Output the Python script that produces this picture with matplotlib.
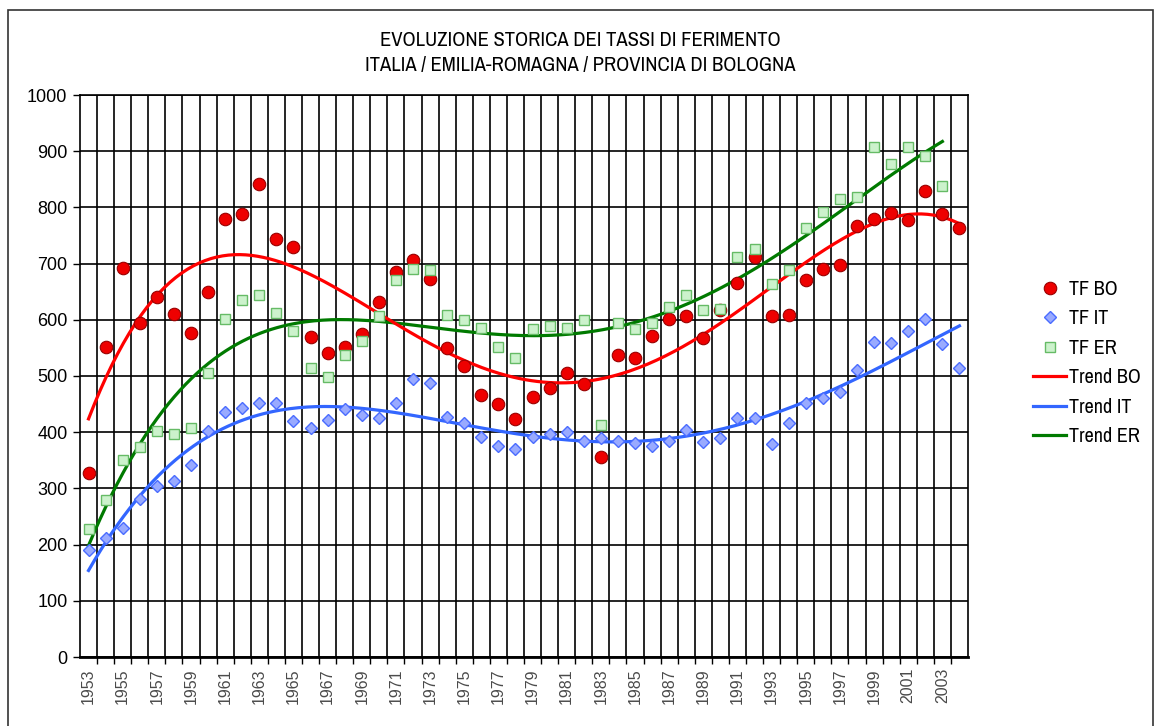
import numpy as np
import matplotlib
matplotlib.use("Agg")
import matplotlib.pyplot as plt
from matplotlib.lines import Line2D

years = list(range(1953, 2005))

tf_bo = [327, 552, 692, 595, 641, 610, 577, 650, 779, 788,
         842, 744, 730, 570, 541, 552, 574, 632, 685, 706,
         673, 549, 517, 467, 450, 424, 463, 479, 506, 486,
         356, 538, 532, 572, 602, 607, 567, 618, 665, 712,
         607, 608, 671, 690, 697, 767, 779, 790, 778, 829,
         788, 763]

tf_it = [190, 212, 230, 281, 304, 313, 342, 402, 436, 443,
         452, 452, 420, 408, 422, 441, 431, 425, 452, 494,
         487, 427, 416, 391, 375, 370, 391, 397, 400, 384,
         390, 384, 381, 375, 384, 404, 383, 390, 425, 425,
         379, 416, 452, 461, 472, 511, 561, 559, 580, 601,
         557, 514]

tf_er = [228, 279, 350, 374, 403, 397, 407, 506, 601, 635,
         644, 612, 580, 515, 499, 537, 563, 606, 670, 690,
         688, 608, 600, 585, 551, 532, 584, 589, 585, 600,
         413, 594, 584, 594, 623, 644, 617, 619, 712, 726,
         664, 688, 763, 792, 815, 819, 907, 877, 907, 891,
         838]

labels = ['TF BO', 'TF IT', 'TF ER', 'Trend BO', 'Trend IT', 'Trend ER']
title = "EVOLUZIONE STORICA DEI TASSI DI FERIMENTO\nITALIA / EMILIA-ROMAGNA / PROVINCIA DI BOLOGNA"

NARROW = ['Archivo Narrow', 'Liberation Sans', 'DejaVu Sans']
plt.rcParams['font.family'] = ['Liberation Sans', 'DejaVu Sans']

fig = plt.figure(figsize=(11.57, 7.26), dpi=100)
ax = fig.add_axes([80/1157, 1-657/726, (968-80)/1157, (657-95)/726])

def trend(vals, deg=4):
    # polynomial trendline (order 4) as in the spreadsheet chart
    x = np.arange(1, len(vals) + 1)
    p = np.polynomial.Polynomial.fit(x, vals, deg)
    xs = np.linspace(1, len(vals), 300)
    return xs - 1, p(xs)

C_BO, C_IT, C_ER = '#ff0000', '#3366ff', '#007a00'
bo_m = dict(ls='none', marker='o', ms=9, mfc='#ee0000', mec='#990000', mew=0.8)
it_m = dict(ls='none', marker='D', ms=6.0, mfc='#99aaff', mec='#4a6cff', mew=1.0)
er_m = dict(ls='none', marker='s', ms=7, mfc='#ccf2cc', mec='#66bb66', mew=1.0)

tx, ty = trend(tf_er)
ax.plot(tx, ty, color=C_ER, lw=2.3, zorder=4)
tx, ty = trend(tf_bo)
ax.plot(tx, ty, color=C_BO, lw=2.3, zorder=4)
tx, ty = trend(tf_it)
ax.plot(tx, ty, color=C_IT, lw=2.3, zorder=4)

ax.plot(np.arange(len(tf_bo)), tf_bo, zorder=5, **bo_m)
ax.plot(np.arange(len(tf_it)), tf_it, zorder=5, **it_m)
ax.plot(np.arange(len(tf_er)), tf_er, zorder=5, **er_m)

ax.set_xlim(-0.5, len(years) - 0.5)
ax.set_ylim(0, 1000)
ax.set_yticks(range(0, 1001, 100))
ax.set_xticks(np.arange(0, len(years), 2))
ax.set_xticklabels([str(y) for y in years[::2]], rotation=90, color='#4a4a4a', fontsize=11.5)
ax.set_xticks(np.arange(0.5, len(years) - 0.5, 1), minor=True)
ax.tick_params(axis='x', which='major', length=0, pad=8)
ax.tick_params(axis='x', which='minor', length=5, width=1.0, direction='out')
ax.tick_params(axis='y', which='major', length=5, width=1.0, direction='out', labelsize=13, pad=4)
ax.grid(True, axis='y', which='major', color='black', lw=1.2)
ax.grid(True, axis='x', which='minor', color='black', lw=1.2)
ax.set_axisbelow(True)
for s in ax.spines.values():
    s.set_linewidth(1.2)
    s.set_color('black')
ax.spines['bottom'].set_linewidth(2.0)

fig.text(580/1157, 1-53/726, title, ha='center', va='center', fontsize=14.8,
         linespacing=1.45, family=NARROW)

handles = [Line2D([], [], **bo_m), Line2D([], [], **it_m), Line2D([], [], **er_m),
           Line2D([], [], color=C_BO, lw=2.3), Line2D([], [], color=C_IT, lw=2.3),
           Line2D([], [], color=C_ER, lw=2.3)]
fig.legend(handles, labels, loc='center left', bbox_to_anchor=(1033/1157, 1-363/726),
           frameon=False, borderpad=0, borderaxespad=0, handlelength=1.65,
           handletextpad=0.15, labelspacing=0.52, prop={'family': NARROW, 'size': 14.5})

frame = plt.Rectangle((8/1157, -0.05), (1153-8)/1157, 1.05 - 10/726, transform=fig.transFigure,
                      fill=False, ec='#333333', lw=1.2)
fig.add_artist(frame)

fig.savefig('out.png', dpi=100)
